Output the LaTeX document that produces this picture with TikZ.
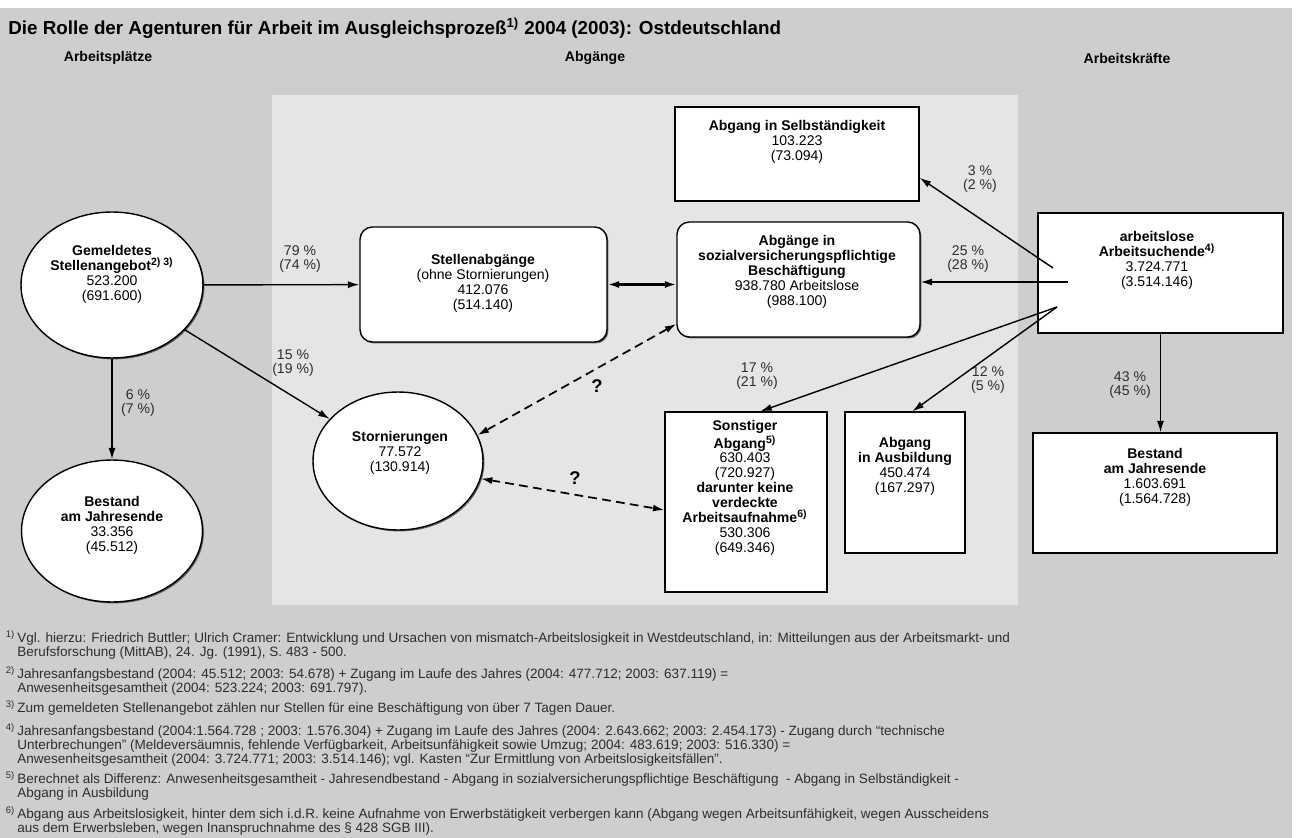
\documentclass[tikz,border=0pt]{standalone}
\usepackage{fontspec}
\setmainfont{Liberation Sans}
\usetikzlibrary{shapes.geometric, arrows.meta, shadows, calc}
\definecolor{outergray}{RGB}{206,206,206}
\definecolor{panelgray}{RGB}{229,229,229}
\definecolor{textgray}{RGB}{45,45,45}

\begin{document}
\begin{tikzpicture}[
    x=0.02cm, y=-0.02cm,
    boxbase/.style={
        draw=black,
        line width=0.8pt,
        fill=white,
        inner sep=0pt,
        drop shadow={shadow xshift=0.8pt, shadow yshift=-0.8pt, fill=black!75, opacity=0.8}
    },
    box/.style={boxbase, rectangle},
    roundbox/.style={boxbase, rectangle, rounded corners=7pt},
    oval/.style={boxbase, ellipse},
    txt/.style={align=center, inner sep=0pt, font=\fontsize{8}{8.5}\selectfont},
    pct/.style={align=center, inner sep=0pt, font=\fontsize{8}{8.3}\selectfont, text=textgray},
    head/.style={inner sep=0pt, font=\fontsize{8}{9}\selectfont\bfseries},
    qmark/.style={inner sep=0pt, font=\fontsize{10.5}{12}\selectfont\bfseries},
    flow/.style={-{Latex[length=6.5pt,width=4pt]}, line width=0.8pt},
    dflow/.style={{Latex[length=6.5pt,width=4pt]}-{Latex[length=6.5pt,width=4pt]}, line width=1pt, dash pattern=on 5pt off 3pt},
    note/.style={anchor=north west, align=left, inner sep=0pt, font=\fontsize{7.7}{8}\selectfont, text=textgray}
]
    % Background
    \fill[white] (0,0) rectangle (1298,838);
    \fill[outergray] (0,8) rectangle (1292,838);
    \fill[panelgray] (272,95) rectangle (1018,605);

    % Title and column heads
    \node[anchor=west, inner sep=0pt, font=\fontsize{10.7}{12}\selectfont\bfseries] (title) at (8,28)
        {Die Rolle der Agenturen für Arbeit im Ausgleichsprozeß\textsuperscript{1)} 2004 (2003): Ostdeutschland};
    \node[head] (h-plaetze) at (108,58) {Arbeitsplätze};
    \node[head] (h-abgaenge) at (595,58) {Abgänge};
    \node[head] (h-kraefte) at (1127,58) {Arbeitskräfte};

    % Shapes
    \node[oval, minimum width=3.64cm, minimum height=2.92cm] (gem) at (112,285) {};
    \node[oval, minimum width=3.62cm, minimum height=2.84cm] (bestL) at (112,531) {};
    \node[roundbox, minimum width=4.94cm, minimum height=2.30cm] (stab) at (483.5,284.5) {};
    \node[roundbox, minimum width=4.86cm, minimum height=2.30cm] (svp) at (798.5,279.5) {};
    \node[box, minimum width=4.88cm, minimum height=1.88cm] (sel) at (797,154) {};
    \node[box, minimum width=4.90cm, minimum height=2.40cm] (arb) at (1160.5,273) {};
    \node[box, minimum width=4.88cm, minimum height=2.40cm] (bestR) at (1155,493) {};
    \node[oval, minimum width=3.40cm, minimum height=2.76cm] (storn) at (398,461) {};
    \node[box, minimum width=3.24cm, minimum height=3.60cm] (sonst) at (746,502) {};
    \node[box, minimum width=2.40cm, minimum height=2.82cm] (ausb) at (905,482.5) {};

    % Texts in the shapes
    \node[txt] (gem-t) at (112,274) {\textbf{Gemeldetes}\\\textbf{Stellenangebot\textsuperscript{2) 3)}}\\523.200\\(691.600)};
    \node[txt] (bestL-t) at (112,525) {\textbf{Bestand}\\\textbf{am Jahresende}\\33.356\\(45.512)};
    \node[txt] (stab-t) at (483,283) {\textbf{Stellenabgänge}\\(ohne Stornierungen)\\412.076\\(514.140)};
    \node[txt] (svp-t) at (797,272) {\textbf{Abgänge in}\\\textbf{sozialversicherungspflichtige}\\\textbf{Beschäftigung}\\938.780 Arbeitslose\\(988.100)};
    \node[txt] (sel-t) at (797,142) {\textbf{Abgang in Selbständigkeit}\\103.223\\(73.094)};
    \node[txt] (arb-t) at (1157,260) {\textbf{arbeitslose}\\\textbf{Arbeitsuchende\textsuperscript{4)}}\\3.724.771\\(3.514.146)};
    \node[txt] (bestR-t) at (1155,477) {\textbf{Bestand}\\\textbf{am Jahresende}\\1.603.691\\(1.564.728)};
    \node[txt] (storn-t) at (400,453) {\textbf{Stornierungen}\\77.572\\(130.914)};
    \node[txt] (sonst-t) at (745,488) {\textbf{Sonstiger}\\\textbf{Abgang\textsuperscript{5)}}\\630.403\\(720.927)\\\textbf{darunter keine}\\\textbf{verdeckte}\\\textbf{Arbeitsaufnahme\textsuperscript{6)}}\\530.306\\(649.346)};
    \node[txt] (ausb-t) at (905,466) {\textbf{Abgang}\\\textbf{in Ausbildung}\\450.474\\(167.297)};

    % Connectors
    \coordinate (a3) at (1053,268);
    \coordinate (a25) at (1068,282);
    \coordinate (a17) at (1057,307);
    \draw[flow] (gem) -- (stab);
    \draw[flow] (gem) -- (storn);
    \draw[flow] (gem) -- (bestL);
    \draw[{Latex[length=6.5pt,width=4pt]}-{Latex[length=6.5pt,width=4pt]}, line width=1.2pt] (stab.east) -- (stab.east -| svp.west);
    \draw[flow] (a3) -- (sel.-11);
    \draw[flow] (a25) -- (a25 -| svp.east);
    \draw[flow] (a17) -- (sonst.81);
    \draw[flow] (a17) -- (ausb.84);
    \draw[flow] (arb.south) -- (arb.south |- bestR.north);
    \draw[dflow] (svp.200) -- (storn.18);
    \draw[dflow] (storn.-12) -- ($(sonst.west)+(0,8)$);

    \node[qmark] (q1) at (597,386) {?};
    \node[qmark] (q2) at (575,478) {?};

    % Shares
    \node[pct] (p79) at (300,259) {79 \%\\(74 \%)};
    \node[pct] (p15) at (293,363) {15 \%\\(19 \%)};
    \node[pct] (p6) at (138,403) {6 \%\\(7 \%)};
    \node[pct] (p3) at (980,179) {3 \%\\(2 \%)};
    \node[pct] (p25) at (968,259) {25 \%\\(28 \%)};
    \node[pct] (p17) at (757,376) {17 \%\\(21 \%)};
    \node[pct] (p12) at (988,380) {12 \%\\(5 \%)};
    \node[pct] (p43) at (1130,385) {43 \%\\(45 \%)};

    % Footnotes
    \node[note] (fn1) at (17,630) {\llap{\textsuperscript{1)}\,}Vgl. hierzu: Friedrich Buttler; Ulrich Cramer: Entwicklung und Ursachen von mismatch-Arbeitslosigkeit in Westdeutschland, in: Mitteilungen aus der Arbeitsmarkt- und\\Berufsforschung (MittAB), 24. Jg. (1991), S. 483 - 500.};
    \node[note] (fn2) at (17,666) {\llap{\textsuperscript{2)}\,}Jahresanfangsbestand (2004: 45.512; 2003: 54.678) + Zugang im Laufe des Jahres (2004: 477.712; 2003: 637.119) =\\Anwesenheitsgesamtheit (2004: 523.224; 2003: 691.797).};
    \node[note] (fn3) at (17,700) {\llap{\textsuperscript{3)}\,}Zum gemeldeten Stellenangebot zählen nur Stellen für eine Beschäftigung von über 7 Tagen Dauer.};
    \node[note] (fn4) at (17,723) {\llap{\textsuperscript{4)}\,}Jahresanfangsbestand (2004:1.564.728 ; 2003: 1.576.304) + Zugang im Laufe des Jahres (2004: 2.643.662; 2003: 2.454.173) - Zugang durch ``technische\\Unterbrechungen'' (Meldeversäumnis, fehlende Verfügbarkeit, Arbeitsunfähigkeit sowie Umzug; 2004: 483.619; 2003: 516.330) =\\Anwesenheitsgesamtheit (2004: 3.724.771; 2003: 3.514.146); vgl. Kasten ``Zur Ermittlung von Arbeitslosigkeitsfällen''.};
    \node[note] (fn5) at (17,771) {\llap{\textsuperscript{5)}\,}Berechnet als Differenz: Anwesenheitsgesamtheit - Jahresendbestand - Abgang in sozialversicherungspflichtige Beschäftigung \ - Abgang in Selbständigkeit -\\Abgang in Ausbildung};
    \node[note] (fn6) at (17,806) {\llap{\textsuperscript{6)}\,}Abgang aus Arbeitslosigkeit, hinter dem sich i.d.R. keine Aufnahme von Erwerbstätigkeit verbergen kann (Abgang wegen Arbeitsunfähigkeit, wegen Ausscheidens\\aus dem Erwerbsleben, wegen Inanspruchnahme des § 428 SGB III).};

    \pgfresetboundingbox
    \useasboundingbox (0,0) rectangle (1298,838);
\end{tikzpicture}
\end{document}
